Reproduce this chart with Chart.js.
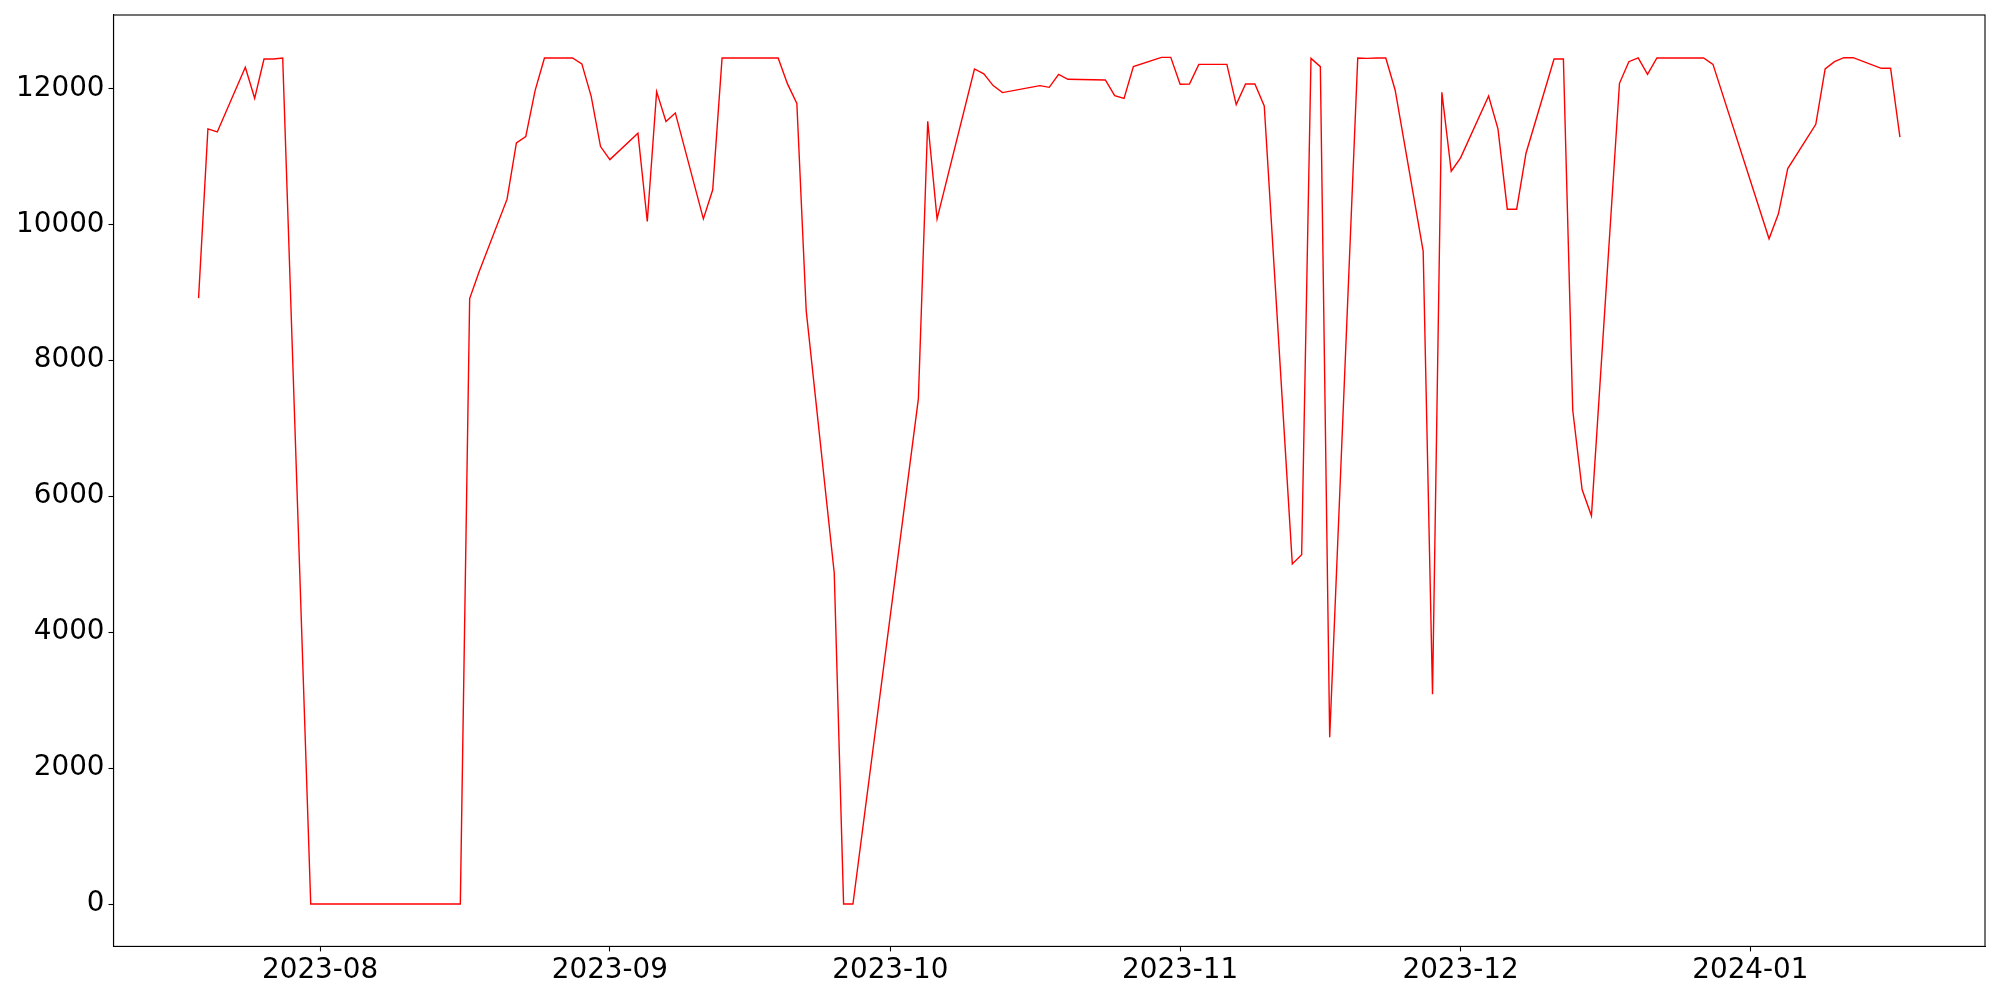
<!DOCTYPE html>
<html>
<head>
<meta charset="utf-8">
<script src="https://cdn.jsdelivr.net/npm/chart.js@4/dist/chart.umd.min.js"></script>
<style>
  html, body { margin: 0; padding: 0; background: #fff; }
  #wrap { width: 2000px; height: 1000px; }
</style>
</head>
<body>
<div id="wrap"><canvas id="myChart"></canvas></div>
<script>
// Dates of the readings (weekdays, some gaps)
var dates = [
  '2023-07-19','2023-07-20','2023-07-21','2023-07-24','2023-07-25','2023-07-26','2023-07-27','2023-07-28',
  '2023-07-31','2023-08-16','2023-08-17','2023-08-18','2023-08-21','2023-08-22','2023-08-23','2023-08-24',
  '2023-08-25','2023-08-28','2023-08-29','2023-08-30','2023-08-31','2023-09-01','2023-09-04','2023-09-05',
  '2023-09-06','2023-09-07','2023-09-08','2023-09-11','2023-09-12','2023-09-13','2023-09-19','2023-09-20',
  '2023-09-21','2023-09-22','2023-09-25','2023-09-26','2023-09-27','2023-10-04','2023-10-05','2023-10-06',
  '2023-10-10','2023-10-11','2023-10-12','2023-10-13','2023-10-16','2023-10-17','2023-10-18','2023-10-19',
  '2023-10-20','2023-10-24','2023-10-25','2023-10-26','2023-10-27','2023-10-30','2023-10-31','2023-11-01',
  '2023-11-02','2023-11-03','2023-11-06','2023-11-07','2023-11-08','2023-11-09','2023-11-10','2023-11-13',
  '2023-11-14','2023-11-15','2023-11-16','2023-11-17','2023-11-20','2023-11-21','2023-11-22','2023-11-23',
  '2023-11-24','2023-11-27','2023-11-28','2023-11-29','2023-11-30','2023-12-01','2023-12-04','2023-12-05',
  '2023-12-06','2023-12-07','2023-12-08','2023-12-11','2023-12-12','2023-12-13','2023-12-14','2023-12-15',
  '2023-12-18','2023-12-19','2023-12-20','2023-12-21','2023-12-22','2023-12-27','2023-12-28','2024-01-03',
  '2024-01-04','2024-01-05','2024-01-08','2024-01-09','2024-01-10','2024-01-11','2024-01-12','2024-01-15',
  '2024-01-16','2024-01-17'
];

// Values, one per date
var values = [
  8914, 11403, 11359, 12309, 11853, 12432, 12432, 12447,
  0, 0, 8908, 9297, 10370, 11198, 11290, 11966,
  12447, 12447, 12359, 11883, 11143, 10952, 11339, 10041,
  11951, 11511, 11638, 10080, 10507, 12447, 12447, 12065,
  11779, 8730, 4870, 0, 0, 7431, 11516, 10080,
  12285, 12212, 12040, 11937, 12015, 12040, 12015, 12206,
  12133, 12123, 11893, 11853, 12319, 12456, 12456, 12059,
  12064, 12353, 12353, 11760, 12064, 12064, 11741, 5004,
  5140, 12441, 12319, 2454, 12447, 12441, 12447, 12447,
  11976, 9605, 3086, 11941, 10780, 10977, 11888, 11403,
  10222, 10222, 11045, 12432, 12432, 7264, 6098, 5711,
  12074, 12392, 12447, 12206, 12447, 12447, 12353, 9787,
  10154, 10820, 11471, 12285, 12392, 12451, 12451, 12295,
  12295, 11281
];

// Axis ticks
var xTickLabels = ['2023-08', '2023-09', '2023-10', '2023-11', '2023-12', '2024-01'];
var yTickValues = [0, 2000, 4000, 6000, 8000, 10000, 12000];

// days counted from 2023-08-01
var origin = Date.UTC(2023, 7, 1);
function dayNum(s) {
  var p = s.split('-').map(Number);
  return (Date.UTC(p[0], p[1] - 1, p[2] || 1) - origin) / 86400000;
}

var points = dates.map(function (d, i) { return { x: dayNum(d), y: values[i] }; });
var xTickValues = xTickLabels.map(dayNum);

// matplotlib style 5% margins
var xFirst = points[0].x, xLast = points[points.length - 1].x;
var xPad = (xLast - xFirst) * 0.05;
var yMax = Math.max.apply(null, values), yMin = Math.min.apply(null, values);
var yPad = (yMax - yMin) * 0.05;

var tickFont = { family: 'DejaVu Sans', size: 27.8 };

// box around the plot area, like matplotlib spines
var frame = {
  id: 'frame',
  afterDraw: function (c) {
    var a = c.chartArea, ctx = c.ctx;
    ctx.save();
    ctx.strokeStyle = '#000';
    ctx.lineWidth = 1.1;
    ctx.strokeRect(a.left, a.top, a.right - a.left, a.bottom - a.top);
    ctx.restore();
  }
};

var ctx = document.getElementById('myChart');
var myChart = new Chart(ctx, {
  type: 'line',
  data: {
    datasets: [{
      data: points,
      borderColor: '#ff0000',
      borderWidth: 1.4,
      pointRadius: 0,
      tension: 0,
      fill: false
    }]
  },
  options: {
    responsive: true,
    maintainAspectRatio: false,
    animation: false,
    layout: { padding: { left: 0, top: 15, right: 15, bottom: 0 } },
    plugins: { legend: { display: false }, tooltip: { enabled: false } },
    scales: {
      x: {
        type: 'linear',
        min: xFirst - xPad,
        max: xLast + xPad,
        afterBuildTicks: function (scale) {
          scale.ticks = xTickValues.map(function (v) { return { value: v }; });
        },
        afterFit: function (scale) { scale.height = 53.6; },
        ticks: {
          color: '#000',
          font: tickFont,
          padding: 3,
          maxRotation: 0,
          autoSkip: false,
          callback: function (v) { return xTickLabels[xTickValues.indexOf(v)]; }
        },
        grid: { drawOnChartArea: false, drawTicks: true, tickLength: 5, tickColor: '#000', tickWidth: 1.1 },
        border: { display: true, color: '#000', width: 1.1 }
      },
      y: {
        type: 'linear',
        min: yMin - yPad,
        max: yMax + yPad,
        afterBuildTicks: function (scale) {
          scale.ticks = yTickValues.map(function (v) { return { value: v }; });
        },
        afterFit: function (scale) {
          scale.width = 113.5;
          scale.paddingTop = 0;
          scale.paddingBottom = 0;
        },
        ticks: {
          color: '#000',
          font: tickFont,
          padding: 4,
          callback: function (v) { return String(v); }
        },
        grid: { drawOnChartArea: false, drawTicks: true, tickLength: 5, tickColor: '#000', tickWidth: 1.1 },
        border: { display: true, color: '#000', width: 1.1 }
      }
    }
  },
  plugins: [frame]
});
</script>
</body>
</html>
